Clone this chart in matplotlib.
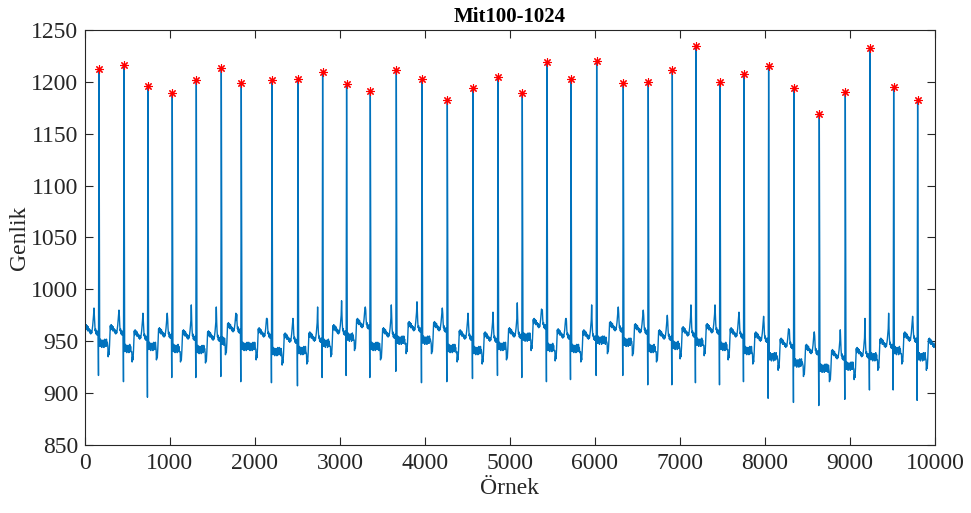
import matplotlib

matplotlib.use("Agg")
import matplotlib.pyplot as plt

plt.rcParams["font.family"] = ["Liberation Serif", "DejaVu Serif"]

# ---- R tepeleri (okunan değerler) ----
r_x = [165, 459, 741, 1027, 1310, 1604, 1839, 2200, 2506, 2796, 3078, 3357,
       3663, 3965, 4263, 4565, 4859, 5145, 5435, 5718, 6020, 6333, 6627,
       6910, 7188, 7471, 7753, 8043, 8341, 8639, 8945, 9235, 9514, 9796]
r_y = [1212, 1216, 1196, 1189, 1202, 1213, 1199, 1202, 1203, 1210, 1198, 1191,
       1211, 1203, 1183, 1194, 1205, 1189, 1219, 1203, 1220, 1199, 1200,
       1211, 1235, 1200, 1208, 1215, 1194, 1169, 1190, 1233, 1195, 1183]
# Q/S çukurları, vuru sonrası taban seviyesi, R öncesi sivri tepe
s_y = [917, 911, 896, 915, 915, 916, 911, 910, 907, 915, 917, 915,
       921, 910, 911, 914, 917, 915, 911, 913, 917, 917, 908,
       908, 910, 908, 911, 895, 891, 888, 894, 903, 903, 893]
base_y = [948, 943, 945, 943, 942, 950, 945, 940, 941, 948, 954, 945,
          951, 951, 943, 941, 945, 954, 944, 943, 951, 949, 943,
          946, 949, 945, 941, 935, 929, 924, 926, 935, 941, 935]
pre_y = [982, 980, 977, 977, 985, 983, 970, 972, 972, 983, 989, 983,
         985, 988, 982, 977, 978, 987, 980, 972, 985, 983, 980,
         975, 985, 985, 978, 974, 961, 959, 961, 972, 977, 974]
tail_next_r = 10085

# vuru şablonu: (R'ye göre örnek, tabana göre genlik)
pre_a = [(-190, -3), (-186, -13), (-181, -8), (-176, -11), (-170, -2), (-166, 7),
         (-161, 17), (-156, 13), (-151, 18), (-145, 14), (-139, 17), (-133, 12),
         (-127, 16), (-121, 12), (-115, 14), (-109, 10), (-103, 13), (-97, 9),
         (-91, 12), (-85, 10), (-79, 14), (-74, 17), (-69, 22), (-64, 27)]
pre_peak_off = -59
pre_b = [(-54, 26), (-50, 18), (-45, 12), (-40, 14), (-35, 9), (-30, 12),
         (-25, 8), (-20, 11), (-15, 8), (-10, 12)]
q_off = -6
wiggle = [2, -3, 4, -1, 1, -4, 3, 0, -2, 3, -4, 1, 4, -3]

xs, ys = [], []


def add_plateau(r0, b0, r1):
    for i, off in enumerate(range(8, r1 - r0 - 195, 5)):
        xs.append(r0 + off)
        ys.append(b0 + wiggle[i % len(wiggle)])


def add_pre(r1, b0, peak):
    for off, dv in pre_a:
        xs.append(r1 + off)
        ys.append(b0 + dv)
    xs.append(r1 + pre_peak_off)
    ys.append(peak)
    for off, dv in pre_b:
        xs.append(r1 + off)
        ys.append(b0 + dv)


for k in range(len(r_x)):
    b_prev = base_y[k - 1] if k > 0 else base_y[0]
    if k > 0:
        add_plateau(r_x[k - 1], b_prev, r_x[k])
    add_pre(r_x[k], b_prev, pre_y[k])
    xs += [r_x[k] + q_off, r_x[k]]
    ys += [s_y[k], r_y[k]]

add_plateau(r_x[-1], base_y[-1], tail_next_r)
add_pre(tail_next_r, base_y[-1], pre_y[-1])

fig = plt.figure(figsize=(9.71, 5.13), dpi=100)
ax = fig.add_axes([0.0875, 0.1326, 0.8754, 0.8089])

ax.plot(xs, ys, color="#0072BD", lw=1.0)
ax.plot(r_x, r_y, ls="none", marker=(8, 2, 0), ms=6, mew=0.8, color="#FF0000")

ax.set_xlim(0, 10000)
ax.set_ylim(850, 1250)
ax.set_xticks(range(0, 10001, 1000))
ax.set_yticks(range(850, 1251, 50))

dark = "#262626"
for sp in ax.spines.values():
    sp.set_color(dark)
    sp.set_linewidth(0.8)
ax.tick_params(direction="in", top=True, right=True, length=6, width=0.8,
               colors=dark, labelsize=17)
ax.tick_params(axis="x", pad=6)
ax.tick_params(axis="y", pad=5)

ax.set_title("Mit100-1024", fontsize=15, fontweight="bold", color="black", pad=6)
ax.set_xlabel("Örnek", fontsize=17, color=dark, labelpad=3)
ax.set_ylabel("Genlik", fontsize=17, color=dark, labelpad=1)

fig.savefig("out.png", dpi=100)
